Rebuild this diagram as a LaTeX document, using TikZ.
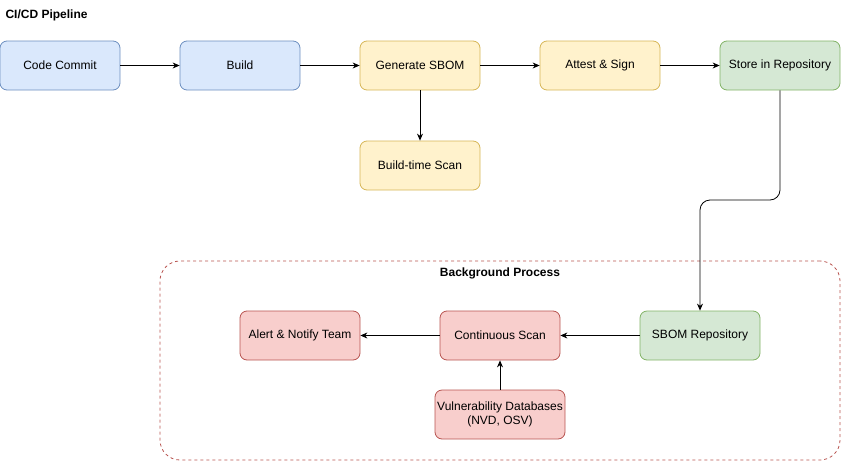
\documentclass[tikz,border=0pt]{standalone}
\usepackage{fontspec}
\setmainfont{Liberation Sans}
\usetikzlibrary{arrows.meta}
\definecolor{bF}{HTML}{DAE8FC}\definecolor{bS}{HTML}{6C8EBF}
\definecolor{yF}{HTML}{FFF2CC}\definecolor{yS}{HTML}{D6B656}
\definecolor{gF}{HTML}{D5E8D4}\definecolor{gS}{HTML}{82B366}
\definecolor{rF}{HTML}{F8CECC}\definecolor{rS}{HTML}{B85450}
\begin{document}
\begin{tikzpicture}[x=1pt,y=-1pt,
 box/.style={draw,rounded corners=7pt,minimum width=120pt,minimum height=49pt,inner sep=0pt,align=center,font=\fontsize{12}{14}\selectfont,line width=0.8pt},
 blue/.style={box,fill=bF,draw=bS},yel/.style={box,fill=yF,draw=yS},
 grn/.style={box,fill=gF,draw=gS},red/.style={box,fill=rF,draw=rS},
 arr/.style={-{Stealth[length=7pt,width=6pt]},line width=0.8pt}]
\useasboundingbox (0,0) rectangle (841,461);
\node[anchor=west,font=\bfseries\fontsize{12}{14}\selectfont] (title) at (2,15) {CI/CD Pipeline};
\node[draw=rS,dashed,rounded corners=20pt,minimum width=680pt,minimum height=199pt,line width=0.8pt] (bg) at (500,360.5) {};
\node[font=\bfseries\fontsize{12}{14}\selectfont] (bgt) at (500,273) {Background Process};
\node[blue] (cc) at (60,65.5) {Code Commit};
\node[blue] (b) at (240,65.5) {Build};
\node[yel] (gs) at (420,65.5) {Generate SBOM};
\node[yel] (as) at (600,65.5) {Attest \& Sign};
\node[grn] (st) at (780,65.5) {Store in Repository};
\node[yel] (bs) at (420,165.5) {Build-time Scan};
\node[grn] (sr) at (700,335.5) {SBOM Repository};
\node[red] (cs) at (500,335.5) {Continuous Scan};
\node[red] (al) at (300,335.5) {Alert \& Notify Team};
\node[red,minimum width=130pt] (vd) at (500,414.5) {Vulnerability Databases\\(NVD, OSV)};
\draw[arr] (cc)--(b); \draw[arr] (b)--(gs); \draw[arr] (gs)--(as); \draw[arr] (as)--(st);
\draw[arr] (gs)--(bs);
\draw[arr,rounded corners=10pt] (st.south)--(780,200)--(700,200)--(sr.north);
\draw[arr] (sr)--(cs); \draw[arr] (cs)--(al); \draw[arr] (vd)--(cs);
\end{tikzpicture}
\end{document}
